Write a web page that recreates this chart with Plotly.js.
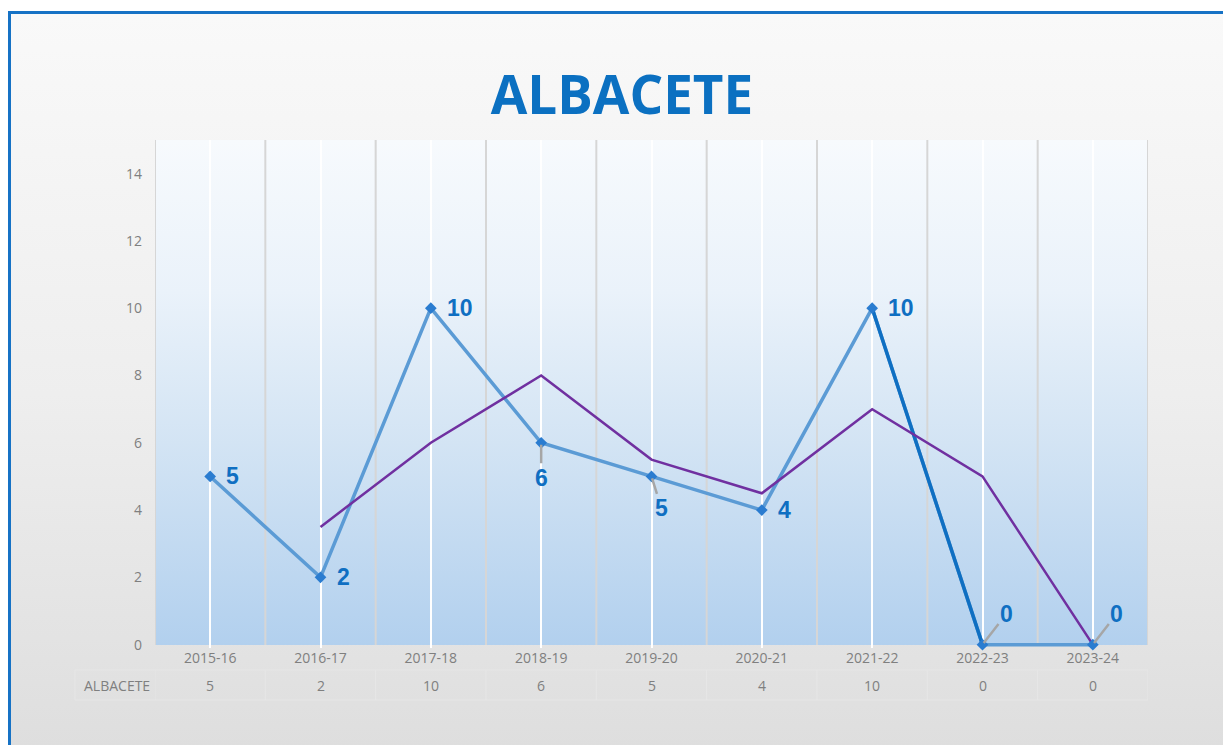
<!DOCTYPE html>
<html>
<head>
<meta charset="utf-8">
<script src="https://cdn.plot.ly/plotly-3.0.1.min.js"></script>
<style>
  html, body { margin: 0; padding: 0; background: #ffffff; width: 1223px; height: 745px; overflow: hidden; }
  #frame { position: absolute; left: 8px; top: 11px; width: 1300px; height: 800px; border: 3px solid #1672c5;
           background: linear-gradient(to bottom, #f9f9f9 0px, #eeeeee 380px, #dedede 734px); }
  #chart { position: absolute; left: 0; top: 0; width: 1223px; height: 745px; }
</style>
</head>
<body>
<div id="frame"></div>
<div id="chart"></div>
<script>
// ---- data ----
const seasons = ["2015-16", "2016-17", "2017-18", "2018-19", "2019-20", "2020-21", "2021-22", "2022-23", "2023-24"];
const albacete = [5, 2, 10, 6, 5, 4, 10, 0, 0];
const movingAvg = [null, 3.5, 6, 8, 5.5, 4.5, 7, 5, 0];
const highlightSegment = [null, null, null, null, null, null, 10, 0, null];
const rowLabel = "ALBACETE";
const yTicks = [0, 2, 4, 6, 8, 10, 12, 14];

// label placement style per point: 'right', 'below', 'belowright', 'aboveright'
const labelPlacement = ["right", "right", "right", "below", "belowright", "right", "right", "aboveright", "aboveright"];

const blue = "#0f6fc2";
const labelFont = { family: "Liberation Sans, Arial, sans-serif", size: 23, color: blue };
const axisFont = { family: "Open Sans, sans-serif", size: 14, color: "#7f7f7f" };

const plotH = 508;

const traces = [
  {
    x: seasons, y: albacete, type: "scatter", mode: "lines",
    line: { color: "#5b9bd5", width: 3.5 }, cliponaxis: false,
    hoverinfo: "skip", showlegend: false
  },
  {
    x: seasons, y: highlightSegment, type: "scatter", mode: "lines",
    line: { color: "#0f6fc2", width: 3.5 }, cliponaxis: false,
    hoverinfo: "skip", showlegend: false
  },
  {
    x: seasons, y: movingAvg, type: "scatter", mode: "lines",
    line: { color: "#7030a0", width: 2.5 }, cliponaxis: false,
    hoverinfo: "skip", showlegend: false
  },
  {
    x: seasons, y: albacete, type: "scatter", mode: "markers",
    marker: { symbol: "diamond", size: 9, color: "#2a7cd0" }, cliponaxis: false,
    hoverinfo: "skip", showlegend: false
  }
];

const annotations = [];
albacete.forEach((v, i) => {
  const p = labelPlacement[i];
  const base = { x: seasons[i], y: v, xref: "x", yref: "y", text: "<b>" + v + "</b>", font: labelFont };
  if (p === "right") {
    annotations.push(Object.assign(base, { showarrow: false, xanchor: "left", yanchor: "middle", xshift: 14 }));
  } else if (p === "below") {
    annotations.push(Object.assign(base, { showarrow: true, arrowhead: 0, arrowwidth: 2.5, arrowcolor: "#a6a6a6",
      ax: 0, ay: 35, standoff: 2 }));
  } else if (p === "belowright") {
    annotations.push(Object.assign(base, { showarrow: true, arrowhead: 0, arrowwidth: 2.5, arrowcolor: "#a6a6a6",
      ax: 10, ay: 32, standoff: 2 }));
  } else if (p === "aboveright") {
    annotations.push(Object.assign(base, { showarrow: true, arrowhead: 0, arrowwidth: 2.5, arrowcolor: "#a6a6a6",
      ax: 24, ay: -31, standoff: 2 }));
  }
});

// data table row
annotations.push({ x: -0.003, y: -37 / plotH, xref: "paper", yref: "paper", text: rowLabel, showarrow: false,
  xanchor: "right", yanchor: "middle", font: axisFont });
albacete.forEach((v, i) => {
  annotations.push({ x: seasons[i], y: -37 / plotH, xref: "x", yref: "paper", text: String(v), showarrow: false,
    xanchor: "center", yanchor: "middle", font: axisFont });
});

const shapes = [];
// gray category boundary gridlines
for (let k = 0; k <= seasons.length; k++) {
  shapes.push({ type: "line", xref: "x", yref: "paper", x0: k - 0.5, x1: k - 0.5, y0: 3 / plotH, y1: 1,
    line: { color: "#d6d6d6", width: 2 }, layer: "below" });
}
// faint table cell lines
const tTop = -22 / plotH, tBot = -52 / plotH, tLeft = -80 / 993;
for (let k = 0; k <= seasons.length; k++) {
  shapes.push({ type: "line", xref: "x", yref: "paper", x0: k - 0.5, x1: k - 0.5, y0: tTop, y1: tBot,
    line: { color: "#e6e6e6", width: 1 }, layer: "below" });
}
shapes.push({ type: "line", xref: "paper", yref: "paper", x0: tLeft, x1: 1, y0: tTop, y1: tTop,
  line: { color: "#e6e6e6", width: 1 }, layer: "below" });
shapes.push({ type: "line", xref: "paper", yref: "paper", x0: tLeft, x1: 1, y0: tBot, y1: tBot,
  line: { color: "#e6e6e6", width: 1 }, layer: "below" });
shapes.push({ type: "line", xref: "paper", yref: "paper", x0: tLeft, x1: tLeft, y0: tTop, y1: tBot,
  line: { color: "#e6e6e6", width: 1 }, layer: "below" });

const gradSvg = '<svg xmlns="http://www.w3.org/2000/svg" width="100" height="100" preserveAspectRatio="none">' +
  '<defs><linearGradient id="g" x1="0" y1="0" x2="0" y2="1">' +
  '<stop offset="0" stop-color="#f7fafd"/><stop offset="0.3" stop-color="#eaf2fa"/>' +
  '<stop offset="0.6" stop-color="#d3e4f4"/><stop offset="1" stop-color="#b2d0ee"/></linearGradient></defs>' +
  '<rect width="100" height="100" fill="url(#g)"/></svg>';
const gradUrl = "data:image/svg+xml;base64," + btoa(gradSvg);

const layout = {
  width: 1223, height: 745,
  margin: { l: 155, r: 75, t: 140, b: 97 },
  paper_bgcolor: "rgba(0,0,0,0)",
  plot_bgcolor: "rgba(0,0,0,0)",
  title: {
    text: "<b>ALBACETE</b>",
    font: { family: "Open Sans, sans-serif", size: 53, color: "#0b70c1" },
    xref: "container", x: 622 / 1223, xanchor: "center",
    yref: "container", y: 1 - 95 / 745, yanchor: "middle"
  },
  xaxis: {
    type: "category", range: [-0.5, seasons.length - 0.5],
    showgrid: true, gridcolor: "#ffffff", gridwidth: 2,
    zeroline: false, showline: false, ticks: "", ticklabelstandoff: 0,
    tickfont: axisFont,
    fixedrange: true
  },
  yaxis: {
    range: [-0.1, 15], tickvals: yTicks, ticktext: yTicks.map(String),
    showgrid: false, zeroline: false, showline: false, ticks: "", ticklabelstandoff: 12,
    tickfont: axisFont,
    fixedrange: true
  },
  images: [{ source: gradUrl, xref: "paper", yref: "paper", x: 0, y: 1, sizex: 1, sizey: 1 - 3 / plotH,
    xanchor: "left", yanchor: "top", sizing: "stretch", layer: "below" }],
  shapes: shapes,
  annotations: annotations,
  showlegend: false
};

Plotly.newPlot("chart", traces, layout, { displayModeBar: false, staticPlot: true });
</script>
</body>
</html>
